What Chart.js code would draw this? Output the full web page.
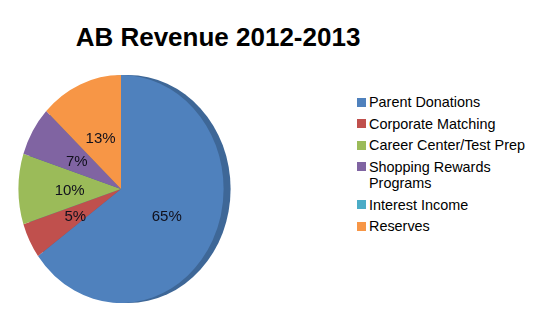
<!DOCTYPE html>
<html>
<head>
<meta charset="utf-8">
<script src="https://cdn.jsdelivr.net/npm/chart.js@4"></script>
<style>
  html, body { margin: 0; padding: 0; background: #ffffff; }
  #wrap { position: relative; width: 546px; height: 326px; overflow: hidden;
          font-family: "Liberation Sans", Arial, Helvetica, sans-serif; }
  #title { position: absolute; left: 0; top: 24px; width: 436px; text-align: center;
           font-weight: bold; font-size: 26px; line-height: 26px; color: #000; white-space: nowrap; }
  #pie { position: absolute; left: 0; top: 52px; width: 242px; height: 274px; }
  #legend { position: absolute; left: 357px; top: 94px; margin: 0; padding: 0; list-style: none; }
  #legend li { display: flex; align-items: flex-start; font-size: 14.4px; line-height: 16.5px;
               margin: 0 0 5px 0; color: #000; }
  #legend .box { flex: none; width: 9px; height: 9px; margin-top: 3.75px; margin-right: 3px; }
  #legend .txt { width: 176px; }
</style>
</head>
<body>
<div id="wrap">
  <div id="title">AB Revenue 2012-2013</div>
  <div id="pie"><canvas id="chart"></canvas></div>
  <ul id="legend"></ul>
</div>
<script>
// ---- data ----
const categories = ['Parent Donations', 'Corporate Matching', 'Career Center/Test Prep',
                    'Shopping Rewards Programs', 'Interest Income', 'Reserves'];
const revenueShare = [65, 5, 10, 7, 0, 13];
const sliceColors = ['#4F81BD', '#C0504D', '#9BBB59', '#8064A2', '#4BACC6', '#F79646'];
const chartTitle = 'AB Revenue 2012-2013';

document.getElementById('title').textContent = chartTitle;

const XSCALE = 0.9;      // slight perspective squash of the pie
const RIM_OFFSET = 7;    // 3D edge on the right
const RIM_COLOR = '#3E6797';

const pie3dLook = {
  id: 'pie3dLook',
  beforeDatasetsDraw(chart) {
    const arc = chart.getDatasetMeta(0).data[0];
    const { x, y, outerRadius } = arc.getProps(['x', 'y', 'outerRadius'], true);
    const ctx = chart.ctx;
    ctx.save();
    ctx.fillStyle = RIM_COLOR;
    ctx.beginPath();
    ctx.ellipse(x + RIM_OFFSET, y, outerRadius * XSCALE, outerRadius, 0, 0, Math.PI * 2);
    ctx.fill();
    ctx.translate(x, y);
    ctx.scale(XSCALE, 1);
    ctx.translate(-x, -y);
  },
  afterDatasetsDraw(chart) {
    const ctx = chart.ctx;
    ctx.restore();
    const meta = chart.getDatasetMeta(0);
    const data = chart.data.datasets[0].data;
    const total = data.reduce((a, b) => a + b, 0);
    ctx.save();
    ctx.font = '15px "Liberation Sans", Arial, sans-serif';
    ctx.fillStyle = '#10101c';
    ctx.textAlign = 'center';
    ctx.textBaseline = 'middle';
    meta.data.forEach((arc, i) => {
      const v = data[i];
      if (!v) return;
      const { x: cx } = arc.getProps(['x'], true);
      const p = arc.tooltipPosition(true);
      const px = cx + (p.x - cx) * XSCALE;
      ctx.fillText(Math.round(v / total * 100) + '%', px, p.y + 2);
    });
    ctx.restore();
  }
};

const chart = new Chart(document.getElementById('chart'), {
  type: 'pie',
  data: {
    labels: categories,
    datasets: [{
      data: revenueShare,
      backgroundColor: sliceColors,
      borderWidth: 0,
      radius: 114
    }]
  },
  options: {
    responsive: true,
    maintainAspectRatio: false,
    animation: false,
    layout: { padding: 0 },
    plugins: {
      legend: { display: false },
      tooltip: { enabled: false },
      title: { display: false }
    }
  },
  plugins: [pie3dLook]
});

// HTML legend built from the chart's own legend items
const items = chart.options.plugins.legend.labels.generateLabels(chart);
const ul = document.getElementById('legend');
items.forEach(it => {
  const li = document.createElement('li');
  const box = document.createElement('span');
  box.className = 'box';
  box.style.background = it.fillStyle;
  const txt = document.createElement('span');
  txt.className = 'txt';
  txt.textContent = it.text;
  li.appendChild(box);
  li.appendChild(txt);
  ul.appendChild(li);
});
</script>
</body>
</html>
